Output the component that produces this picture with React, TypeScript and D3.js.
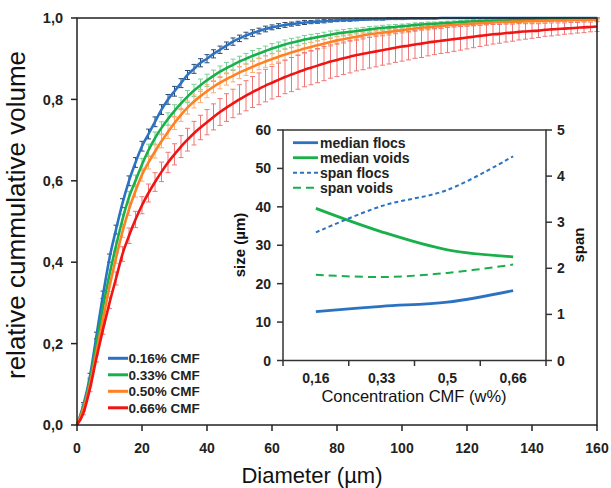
import React from 'react';
import * as d3 from 'd3';

// main chart: cumulative volume vs diameter, one value every 2 µm
const diameters = [
  0, 2, 4, 6, 8, 10, 12, 14, 16, 18, 20, 22, 24, 26, 28, 30, 32, 34, 36, 38, 40,
  42, 44, 46, 48, 50, 52, 54, 56, 58, 60, 62, 64, 66, 68, 70, 72, 74, 76, 78, 80,
  82, 84, 86, 88, 90, 92, 94, 96, 98, 100, 102, 104, 106, 108, 110, 112, 114, 116, 118, 120,
  122, 124, 126, 128, 130, 132, 134, 136, 138, 140, 142, 144, 146, 148, 150, 152, 154, 156, 158, 160,
];

const cmf016 = [
  0, 0.05, 0.12, 0.22, 0.32, 0.41, 0.48, 0.545, 0.6, 0.645, 0.685,
  0.715, 0.745, 0.775, 0.8, 0.82, 0.84, 0.86, 0.875, 0.89, 0.9,
  0.912, 0.922, 0.932, 0.942, 0.95, 0.957, 0.963, 0.968, 0.973, 0.977,
  0.98, 0.983, 0.985, 0.987, 0.989, 0.99, 0.991, 0.992, 0.993, 0.994,
  0.995, 0.995, 0.996, 0.996, 0.997, 0.997, 0.997, 0.998, 0.998, 0.998,
  0.999, 0.999, 0.999, 0.999, 0.999, 1, 1, 1, 1, 1,
  1, 1, 1, 1, 1, 1, 1, 1, 1, 1,
  1, 1, 1, 1, 1, 1, 1, 1, 1, 1,
];
const err016 = [
  0, 0.005, 0.007, 0.008, 0.009, 0.01, 0.011, 0.011, 0.012, 0.012, 0.012,
  0.012, 0.012, 0.012, 0.012, 0.012, 0.011, 0.011, 0.011, 0.01, 0.01,
  0.01, 0.009, 0.009, 0.009, 0.008, 0.008, 0.008, 0.007, 0.007, 0.006,
  0.006, 0.006, 0.005, 0.005, 0.005, 0.004, 0.004, 0.004, 0.003, 0.003,
  0.003, 0.003, 0.003, 0.002, 0.002, 0.002, 0.002, 0.002, 0.002, 0.002,
  0.001, 0.001, 0.001, 0.001, 0.001, 0.001, 0.001, 0.001, 0.001, 0.001,
  0.001, 0.001, 0.001, 0.001, 0.001, 0.001, 0.001, 0.001, 0.001, 0.001,
  0.001, 0.001, 0.001, 0.001, 0.001, 0.001, 0.001, 0.001, 0.001, 0.001,
];

const cmf033 = [
  0, 0.045, 0.11, 0.2, 0.29, 0.37, 0.44, 0.505, 0.56, 0.6, 0.64,
  0.675, 0.705, 0.73, 0.752, 0.772, 0.79, 0.807, 0.822, 0.835, 0.847,
  0.858, 0.868, 0.877, 0.885, 0.893, 0.9, 0.907, 0.913, 0.919, 0.925,
  0.93, 0.935, 0.939, 0.943, 0.947, 0.95, 0.953, 0.956, 0.959, 0.962,
  0.964, 0.966, 0.968, 0.97, 0.972, 0.974, 0.976, 0.977, 0.978, 0.98,
  0.981, 0.983, 0.984, 0.985, 0.986, 0.987, 0.988, 0.989, 0.99, 0.991,
  0.992, 0.992, 0.993, 0.993, 0.994, 0.994, 0.995, 0.995, 0.996, 0.996,
  0.996, 0.997, 0.997, 0.997, 0.998, 0.998, 0.998, 0.998, 0.999, 0.999,
];
const err033 = [
  0, 0.005, 0.007, 0.009, 0.01, 0.011, 0.012, 0.013, 0.014, 0.014, 0.015,
  0.015, 0.015, 0.015, 0.015, 0.015, 0.015, 0.015, 0.015, 0.015, 0.015,
  0.014, 0.014, 0.014, 0.014, 0.013, 0.013, 0.013, 0.012, 0.012, 0.012,
  0.011, 0.011, 0.011, 0.01, 0.01, 0.01, 0.009, 0.009, 0.009, 0.008,
  0.008, 0.008, 0.007, 0.007, 0.007, 0.006, 0.006, 0.006, 0.006, 0.005,
  0.005, 0.005, 0.005, 0.005, 0.004, 0.004, 0.004, 0.004, 0.004, 0.004,
  0.004, 0.004, 0.003, 0.003, 0.003, 0.003, 0.003, 0.003, 0.003, 0.003,
  0.003, 0.003, 0.003, 0.003, 0.003, 0.002, 0.002, 0.002, 0.002, 0.002,
];

const cmf050 = [
  0, 0.04, 0.1, 0.18, 0.26, 0.34, 0.41, 0.475, 0.53, 0.575, 0.615,
  0.645, 0.672, 0.697, 0.72, 0.742, 0.762, 0.78, 0.795, 0.808, 0.82,
  0.831, 0.841, 0.85, 0.858, 0.866, 0.873, 0.88, 0.887, 0.893, 0.899,
  0.905, 0.91, 0.915, 0.92, 0.925, 0.929, 0.933, 0.937, 0.941, 0.945,
  0.948, 0.951, 0.954, 0.957, 0.96, 0.962, 0.964, 0.966, 0.968, 0.97,
  0.972, 0.974, 0.976, 0.977, 0.979, 0.98, 0.982, 0.983, 0.984, 0.985,
  0.986, 0.987, 0.988, 0.989, 0.99, 0.99, 0.991, 0.991, 0.992, 0.992,
  0.993, 0.993, 0.994, 0.994, 0.994, 0.995, 0.995, 0.995, 0.996, 0.996,
];
const err050 = [
  0, 0.005, 0.007, 0.009, 0.011, 0.012, 0.013, 0.014, 0.015, 0.015, 0.016,
  0.016, 0.016, 0.016, 0.016, 0.016, 0.016, 0.016, 0.016, 0.016, 0.016,
  0.015, 0.015, 0.015, 0.015, 0.015, 0.014, 0.014, 0.014, 0.014, 0.013,
  0.013, 0.013, 0.012, 0.012, 0.012, 0.011, 0.011, 0.011, 0.01, 0.01,
  0.01, 0.009, 0.009, 0.009, 0.008, 0.008, 0.008, 0.008, 0.007, 0.007,
  0.007, 0.007, 0.006, 0.006, 0.006, 0.006, 0.005, 0.005, 0.005, 0.005,
  0.005, 0.005, 0.004, 0.004, 0.004, 0.004, 0.004, 0.004, 0.004, 0.004,
  0.003, 0.003, 0.003, 0.003, 0.003, 0.003, 0.003, 0.003, 0.003, 0.003,
];

const cmf066 = [
  0, 0.03, 0.09, 0.165, 0.235, 0.3, 0.36, 0.42, 0.465, 0.505, 0.54,
  0.57, 0.597, 0.622, 0.645, 0.665, 0.684, 0.701, 0.717, 0.731, 0.744,
  0.757, 0.769, 0.78, 0.79, 0.8, 0.809, 0.818, 0.826, 0.834, 0.841,
  0.848, 0.855, 0.861, 0.867, 0.873, 0.878, 0.883, 0.888, 0.893, 0.897,
  0.901, 0.905, 0.909, 0.912, 0.915, 0.918, 0.921, 0.924, 0.927, 0.93,
  0.932, 0.935, 0.937, 0.94, 0.942, 0.944, 0.946, 0.948, 0.95, 0.952,
  0.954, 0.956, 0.958, 0.96, 0.961, 0.963, 0.964, 0.966, 0.967, 0.968,
  0.969, 0.971, 0.972, 0.973, 0.974, 0.975, 0.976, 0.977, 0.978, 0.979,
];
const err066 = [
  0, 0.005, 0.008, 0.01, 0.012, 0.014, 0.016, 0.018, 0.019, 0.02, 0.021,
  0.022, 0.023, 0.024, 0.025, 0.026, 0.027, 0.028, 0.029, 0.03, 0.031,
  0.032, 0.033, 0.034, 0.035, 0.036, 0.037, 0.038, 0.039, 0.04, 0.04,
  0.041, 0.041, 0.042, 0.042, 0.042, 0.042, 0.042, 0.042, 0.041, 0.041,
  0.04, 0.04, 0.039, 0.039, 0.038, 0.038, 0.037, 0.037, 0.036, 0.036,
  0.035, 0.034, 0.034, 0.033, 0.032, 0.031, 0.031, 0.03, 0.029, 0.028,
  0.027, 0.026, 0.025, 0.024, 0.023, 0.022, 0.021, 0.02, 0.019, 0.018,
  0.017, 0.016, 0.016, 0.015, 0.014, 0.014, 0.013, 0.013, 0.012, 0.012,
];

const xTicks = [0, 20, 40, 60, 80, 100, 120, 140, 160];
const yTicks = [0, 0.2, 0.4, 0.6, 0.8, 1];

// inset chart
const concentrations = ['0,16', '0,33', '0,5', '0,66'];
const medianFlocs = [12.7, 14.1, 15.2, 18.2];
const medianVoids = [39.6, 33.5, 28.8, 27.0];
const spanFlocs = [2.78, 3.35, 3.7, 4.43];
const spanVoids = [1.86, 1.81, 1.9, 2.08];
const sizeTicks = [0, 10, 20, 30, 40, 50, 60];
const spanTicks = [0, 1, 2, 3, 4, 5];

const FONT = 'Liberation Sans, Arial, sans-serif';
const BLUE = '#2b73c2';
const GREEN = '#19b04b';
const ORANGE = '#ff8124';
const RED = '#f01414';

const series = [
  { name: '0.16% CMF', values: cmf016, err: err016, color: BLUE, bar: '#2f4a6e' },
  { name: '0.33% CMF', values: cmf033, err: err033, color: GREEN, bar: '#79cf96' },
  { name: '0.50% CMF', values: cmf050, err: err050, color: ORANGE, bar: '#ffac72' },
  { name: '0.66% CMF', values: cmf066, err: err066, color: RED, bar: '#ef7777' },
];

const insetSeries = [
  { name: 'median flocs', values: medianFlocs, axis: 'left', color: BLUE, dash: null, w: 2.8 },
  { name: 'median voids', values: medianVoids, axis: 'left', color: GREEN, dash: null, w: 2.8 },
  { name: 'span flocs', values: spanFlocs, axis: 'right', color: BLUE, dash: '4,3', w: 2 },
  { name: 'span voids', values: spanVoids, axis: 'right', color: GREEN, dash: '8,5', w: 2 },
];

const comma = (v: number) => d3.format('.1f')(v).replace('.', ',');

export default function App() {
  const x = d3.scaleLinear().domain([0, 160]).range([77, 597]);
  const y = d3.scaleLinear().domain([0, 1]).range([425, 18]);

  const ix = d3.scaleBand().domain(concentrations).range([283, 546]);
  const iyL = d3.scaleLinear().domain([0, 60]).range([360.5, 130]);
  const iyR = d3.scaleLinear().domain([0, 5]).range([360.5, 130]);

  const line = d3
    .line<number>()
    .x((_, i) => x(diameters[i]))
    .y((d) => y(d))
    .curve(d3.curveMonotoneX);

  const insetLine = (scale: d3.ScaleLinear<number, number>) =>
    d3
      .line<number>()
      .x((_, i) => ix(concentrations[i])! + ix.bandwidth() / 2)
      .y((d) => scale(d))
      .curve(d3.curveCatmullRom);

  const bandEdges = [...concentrations.map((c) => ix(c)!), 546];

  return (
    <svg width={611} height={488} style={{ position: 'absolute', left: 0, top: 0 }} fontFamily={FONT}>
      <rect width={611} height={488} fill="#fff" />

      {/* error bars */}
      {series.map((s) => (
        <g key={s.name + 'err'} stroke={s.bar} strokeWidth={1}>
          {s.values.map((v, i) => {
            if (i === 0) return null;
            const cx = x(diameters[i]);
            const y1 = y(Math.min(v + s.err[i], 1.002));
            const y2 = y(v - s.err[i]);
            return (
              <g key={i}>
                <line x1={cx} x2={cx} y1={y1} y2={y2} />
                <line x1={cx - 2.5} x2={cx + 2.5} y1={y1} y2={y1} />
                <line x1={cx - 2.5} x2={cx + 2.5} y1={y2} y2={y2} />
              </g>
            );
          })}
        </g>
      ))}

      {/* curves */}
      {series.map((s) => (
        <path key={s.name} d={line(s.values)!} fill="none" stroke={s.color} strokeWidth={2.6} />
      ))}

      {/* main frame */}
      <rect x={77} y={18} width={520} height={407} fill="none" stroke="#222" strokeWidth={1.5} />

      {/* main axes ticks */}
      {xTicks.map((t) => (
        <g key={'x' + t}>
          <line x1={x(t)} x2={x(t)} y1={425} y2={431} stroke="#222" strokeWidth={1.5} />
          <text x={x(t)} y={453} textAnchor="middle" fontSize={14} fontWeight="bold" fill="#222">
            {t}
          </text>
        </g>
      ))}
      {yTicks.map((t) => (
        <g key={'y' + t}>
          <line x1={71} x2={77} y1={y(t)} y2={y(t)} stroke="#222" strokeWidth={1.5} />
          <text x={63} y={y(t)} dy="0.36em" textAnchor="end" fontSize={14.5} fontWeight="bold" fill="#222">
            {comma(t)}
          </text>
        </g>
      ))}

      <text x={312} y={483} textAnchor="middle" fontSize={22} fill="#111">
        Diameter (µm)
      </text>
      <text transform="translate(25,215) rotate(-90)" textAnchor="middle" fontSize={26} fill="#111">
        relative cummulative volume
      </text>

      {/* main legend */}
      {series.map((s, i) => {
        const ly = 358.3 + i * 16.5;
        return (
          <g key={s.name + 'lg'}>
            <line x1={108} x2={128} y1={ly} y2={ly} stroke={s.color} strokeWidth={3} />
            <text x={128.5} y={ly} dy="0.36em" fontSize={13.5} fontWeight="bold" fill="#222">
              {s.name}
            </text>
          </g>
        );
      })}

      {/* inset */}
      <rect x={283} y={130} width={263} height={230.5} fill="#fff" stroke="#333" strokeWidth={1.5} />
      {insetSeries.map((s) => (
        <path
          key={s.name}
          d={insetLine(s.axis === 'left' ? iyL : iyR)(s.values)!}
          fill="none"
          stroke={s.color}
          strokeWidth={s.w}
          strokeDasharray={s.dash ?? undefined}
        />
      ))}

      {bandEdges.map((e, i) => (
        <line key={'be' + i} x1={e} x2={e} y1={360.5} y2={366} stroke="#333" strokeWidth={1.5} />
      ))}
      {concentrations.map((c) => (
        <text
          key={c}
          x={ix(c)! + ix.bandwidth() / 2}
          y={383}
          textAnchor="middle"
          fontSize={14}
          fontWeight="bold"
          fill="#222"
        >
          {c}
        </text>
      ))}
      {sizeTicks.map((t) => (
        <g key={'sl' + t}>
          <line x1={277} x2={283} y1={iyL(t)} y2={iyL(t)} stroke="#333" strokeWidth={1.5} />
          <text x={271} y={iyL(t)} dy="0.36em" textAnchor="end" fontSize={14} fontWeight="bold" fill="#222">
            {t}
          </text>
        </g>
      ))}
      {spanTicks.map((t) => (
        <g key={'sr' + t}>
          <line x1={546} x2={552} y1={iyR(t)} y2={iyR(t)} stroke="#333" strokeWidth={1.5} />
          <text x={557} y={iyR(t)} dy="0.36em" fontSize={14} fontWeight="bold" fill="#222">
            {t}
          </text>
        </g>
      ))}
      <text x={414} y={402} textAnchor="middle" fontSize={16.5} fill="#111">
        Concentration CMF (w%)
      </text>
      <text transform="translate(245,245) rotate(-90)" textAnchor="middle" fontSize={15} fontWeight="bold" fill="#111">
        size (µm)
      </text>
      <text transform="translate(584,245) rotate(-90)" textAnchor="middle" fontSize={15} fontWeight="bold" fill="#111">
        span
      </text>

      {/* inset legend */}
      {insetSeries.map((s, i) => {
        const ly = 142.7 + i * 15;
        return (
          <g key={s.name + 'ilg'}>
            <line
              x1={293}
              x2={318}
              y1={ly}
              y2={ly}
              stroke={s.color}
              strokeWidth={s.w}
              strokeDasharray={s.dash ?? undefined}
            />
            <text x={320} y={ly} dy="0.36em" fontSize={14} fontWeight="bold" fill="#222">
              {s.name}
            </text>
          </g>
        );
      })}
    </svg>
  );
}
